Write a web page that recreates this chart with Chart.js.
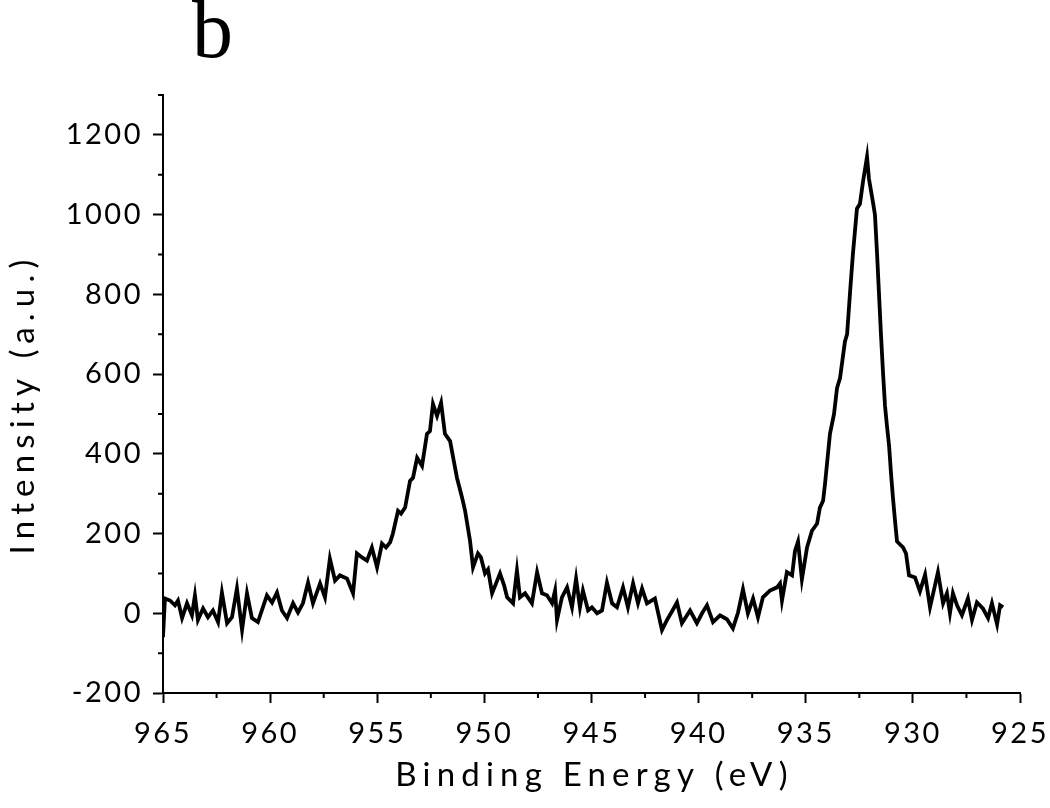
<!DOCTYPE html>
<html><head><meta charset="utf-8">
<script src="https://cdn.jsdelivr.net/npm/chart.js@4.4.0/dist/chart.umd.min.js"></script>
<style>
html,body{margin:0;padding:0;background:#fff;}
#wrap{position:relative;width:1050px;height:808px;}
#panel{position:absolute;left:192px;top:-11px;font-family:"Liberation Serif",serif;font-size:82px;color:#000;line-height:1;}
canvas{display:block;}
</style></head><body>
<div id="wrap"><canvas id="c" width="1050" height="808"></canvas><div id="panel">b</div></div>
<script>
const energies = [965.00, 964.91, 964.67, 964.44, 964.30, 964.11, 963.88, 963.65, 963.51, 963.37,
  963.13, 962.90, 962.67, 962.43, 962.25, 962.01, 961.78, 961.55, 961.31, 961.08,
  960.85, 960.57, 960.15, 959.91, 959.68, 959.45, 959.21, 958.93, 958.70, 958.47,
  958.23, 958.00, 957.67, 957.44, 957.21, 956.97, 956.74, 956.41, 956.13, 955.95,
  955.71, 955.48, 955.25, 955.01, 954.78, 954.59, 954.40, 954.27, 954.03, 953.89,
  953.70, 953.47, 953.33, 953.14, 952.91, 952.68, 952.54, 952.40, 952.21, 952.02,
  951.84, 951.60, 951.42, 951.28, 951.04, 950.90, 950.67, 950.53, 950.30, 950.16,
  949.97, 949.83, 949.64, 949.27, 949.08, 948.94, 948.66, 948.48, 948.34, 948.10,
  947.78, 947.54, 947.31, 947.08, 946.84, 946.70, 946.61, 946.38, 946.14, 945.91,
  945.72, 945.54, 945.40, 945.16, 944.98, 944.74, 944.51, 944.28, 944.04, 943.81,
  943.53, 943.30, 943.06, 942.83, 942.64, 942.41, 942.04, 941.71, 941.48, 941.24,
  941.01, 940.78, 940.40, 940.08, 939.84, 939.61, 939.33, 939.00, 938.68, 938.40,
  938.16, 937.93, 937.70, 937.46, 937.23, 937.00, 936.67, 936.34, 936.20, 936.11,
  935.88, 935.64, 935.50, 935.36, 935.18, 934.94, 934.71, 934.47, 934.34, 934.19,
  934.10, 933.87, 933.68, 933.54, 933.40, 933.17, 933.07, 932.93, 932.80, 932.61,
  932.47, 932.33, 932.14, 932.05, 931.86, 931.77, 931.67, 931.58, 931.49, 931.39,
  931.30, 931.21, 931.11, 931.02, 930.93, 930.83, 930.74, 930.46, 930.32, 930.18,
  929.90, 929.67, 929.43, 929.20, 929.01, 928.83, 928.59, 928.41, 928.27, 928.13,
  927.94, 927.71, 927.43, 927.24, 927.01, 926.73, 926.49, 926.31, 926.07, 925.93,
  925.79];
const intensities = [-60, 37, 32, 20, 32, -12, 25, -5, 45, -17,
  12, -10, 7, -22, 52, -25, -10, 62, -42, 50,
  -12, -22, 45, 27, 52, 7, -12, 25, 2, 25,
  77, 25, 75, 40, 137, 82, 95, 87, 50, 150,
  140, 132, 165, 115, 175, 165, 178, 200, 257, 250,
  265, 332, 340, 390, 370, 450, 457, 525, 495, 528,
  450, 432, 380, 340, 290, 257, 182, 115, 150, 140,
  100, 110, 50, 100, 70, 40, 25, 107, 40, 50,
  25, 103, 50, 45, 25, 57, -17, 40, 65, 15,
  87, 15, 57, 7, 15, 0, 7, 77, 25, 15,
  65, 15, 75, 25, 62, 25, 37, -42, -17, 5,
  27, -25, 7, -25, 0, 20, -22, -5, -15, -38,
  2, 60, 0, 37, -10, 40, 57, 65, 75, 32,
  103, 95, 157, 180, 85, 165, 207, 225, 265, 282,
  325, 450, 500, 565, 590, 682, 700, 807, 900, 1015,
  1027, 1082, 1145, 1090, 1030, 1000, 900, 800, 700, 600,
  520, 470, 420, 350, 290, 230, 180, 165, 150, 95,
  90, 55, 97, 15, 60, 103, 25, 50, 0, 50,
  20, -5, 37, -17, 27, 12, -12, 25, -28, 20,
  15];
const xMajorTicks = [965, 960, 955, 950, 945, 940, 935, 930, 925];
const xMinorTicks = [962.5, 957.5, 952.5, 947.5, 942.5, 937.5, 932.5, 927.5];
const yMajorTicks = [-200, 0, 200, 400, 600, 800, 1000, 1200];
const yMinorTicks = [-100, 100, 300, 500, 700, 900, 1100, 1300];
const xTitle = 'Binding Energy (eV)';
const yTitle = 'Intensity (a.u.)';

const FONT_FAMILY = 'Lato, "DejaVu Sans", sans-serif';
const TICK_LS = '2.5px';
const TITLE_LS = '6.2px';

const spacing = {
  id: 'spacing',
  beforeLayout(c) { c.ctx.letterSpacing = TICK_LS; },
  beforeDraw(c) { c.ctx.letterSpacing = TICK_LS; }
};
const minorTicks = {
  id: 'minorTicks',
  afterDraw(chart) {
    const ctx = chart.ctx, x = chart.scales.x, y = chart.scales.y;
    ctx.save();
    ctx.strokeStyle = '#000';
    ctx.lineWidth = 2;
    ctx.beginPath();
    yMinorTicks.forEach(v => { const p = y.getPixelForValue(v); ctx.moveTo(y.right - 5, p); ctx.lineTo(y.right, p); });
    xMinorTicks.forEach(v => { const p = x.getPixelForValue(v); ctx.moveTo(p, x.top); ctx.lineTo(p, x.top + 5); });
    ctx.stroke();
    ctx.restore();
  }
};
const axisTitles = {
  id: 'axisTitles',
  afterDraw(chart) {
    const ctx = chart.ctx, a = chart.chartArea;
    ctx.save();
    ctx.letterSpacing = TITLE_LS;
    ctx.font = '33px ' + FONT_FAMILY;
    ctx.fillStyle = '#000';
    ctx.textAlign = 'center';
    ctx.textBaseline = 'middle';
    ctx.fillText(xTitle, (a.left + a.right) / 2 + 3, a.bottom + 82);
    ctx.translate(23, (a.top + a.bottom) / 2 + 13);
    ctx.rotate(-Math.PI / 2);
    ctx.fillText(yTitle, 3, 0);
    ctx.restore();
  }
};

Chart.defaults.font.family = FONT_FAMILY;
Chart.defaults.color = '#000';

new Chart(document.getElementById('c'), {
  type: 'line',
  data: {
    datasets: [{
      data: energies.map((e, i) => ({ x: e, y: intensities[i] })),
      borderColor: '#000',
      borderWidth: 3.8,
      pointRadius: 0,
      tension: 0,
      fill: false
    }]
  },
  options: {
    responsive: false,
    animation: false,
    layout: { padding: { left: 0, right: 30, top: 95, bottom: 0 } },
    plugins: { legend: { display: false }, tooltip: { enabled: false } },
    scales: {
      x: {
        type: 'linear',
        reverse: true,
        min: 925, max: 965,
        afterBuildTicks: s => { s.ticks = xMajorTicks.map(v => ({ value: v })); },
        afterFit: s => { s.height = 115; s.paddingLeft = 0; s.paddingRight = 0; },
        ticks: { font: { size: 29 }, padding: 13, maxRotation: 0, autoSkip: false, color: '#000', callback: v => String(v) },
        grid: { drawOnChartArea: false, drawTicks: true, tickLength: 10, tickWidth: 2, tickColor: '#000' },
        border: { display: true, color: '#000', width: 2 }
      },
      y: {
        type: 'linear',
        min: -200, max: 1300,
        afterBuildTicks: s => { s.ticks = yMajorTicks.map(v => ({ value: v })); },
        afterFit: s => { s.width = 163; s.paddingTop = 0; s.paddingBottom = 0; },
        ticks: { font: { size: 29 }, padding: 10, color: '#000', callback: v => String(v) },
        grid: { drawOnChartArea: false, drawTicks: true, tickLength: 10, tickWidth: 2, tickColor: '#000' },
        border: { display: true, color: '#000', width: 2 }
      }
    }
  },
  plugins: [spacing, minorTicks, axisTitles]
});
</script></body></html>
